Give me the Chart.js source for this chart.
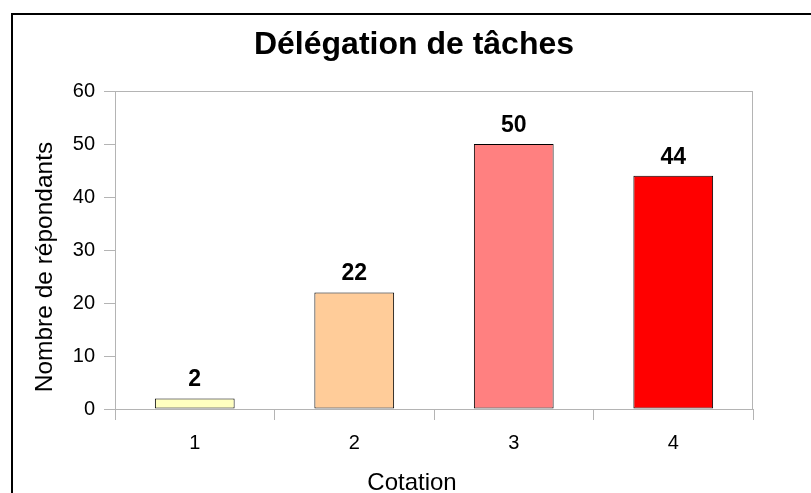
<!DOCTYPE html>
<html lang="fr">
<head>
    <meta charset="UTF-8">
    <title>Délégation de tâches</title>
    <script src="https://cdn.jsdelivr.net/npm/chart.js@4.4.0/dist/chart.umd.min.js"></script>
    <style>
        body {
            margin: 0;
            background: #ffffff;
        }
        #wrap {
            width: 811px;
            height: 493px;
        }
    </style>
</head>
<body>
    <div id="wrap">
        <canvas id="chart" width="811" height="493"></canvas>
    </div>

    <script>
        // données
        const categories = ['1', '2', '3', '4'];
        const counts = [2, 22, 50, 44];
        const chartTitle = 'Délégation de tâches';
        const xTitle = 'Cotation';
        const yTitle = 'Nombre de répondants';

        const barColors = ['#ffffc0', '#ffcc99', '#ff8080', '#ff0000'];
        const FONT = "'Liberation Sans', Arial, sans-serif";
        const axisGray = '#b4b4b4';

        // cadre extérieur + textes (titres, étiquettes de valeurs)
        const decorations = {
            id: 'decorations',
            beforeDraw(chart) {
                const ctx = chart.ctx;
                ctx.save();
                ctx.fillStyle = '#000';
                ctx.fillRect(11, 13, 800, 2);
                ctx.fillRect(11, 13, 2, 480);
                ctx.restore();
            },
            beforeDatasetsDraw(chart) {
                const ctx = chart.ctx;
                const a = chart.chartArea;
                ctx.save();
                ctx.strokeStyle = axisGray;
                ctx.lineWidth = 1;
                ctx.strokeRect(a.left + 0.5, a.top + 0.5, a.right - a.left - 1, a.bottom - a.top);
                ctx.restore();
            },
            afterDatasetsDraw(chart) {
                const ctx = chart.ctx;
                ctx.save();
                ctx.fillStyle = '#000';

                // titre principal
                ctx.font = 'bold 32px ' + FONT;
                ctx.textAlign = 'center';
                ctx.textBaseline = 'alphabetic';
                ctx.fillText(chartTitle, 414, 54);

                // titre axe X
                ctx.font = '24px ' + FONT;
                ctx.fillText(xTitle, 412, 490);

                // titre axe Y
                ctx.save();
                ctx.translate(52, 267);
                ctx.rotate(-Math.PI / 2);
                ctx.font = '24.5px ' + FONT;
                ctx.fillText(yTitle, 0, 0);
                ctx.restore();

                // valeurs au-dessus des barres
                ctx.font = 'bold 23px ' + FONT;
                const meta = chart.getDatasetMeta(0);
                meta.data.forEach((bar, i) => {
                    ctx.fillText(String(counts[i]), bar.x, bar.y - 12);
                });
                ctx.restore();
            }
        };

        new Chart(document.getElementById('chart'), {
            type: 'bar',
            data: {
                labels: categories,
                datasets: [{
                    data: counts,
                    backgroundColor: barColors,
                    borderColor: '#000',
                    borderWidth: 1,
                    borderSkipped: false,
                    barPercentage: 0.5,
                    categoryPercentage: 1.0
                }]
            },
            options: {
                responsive: false,
                animation: false,
                layout: {
                    padding: { top: 91, left: 0, right: 58, bottom: 0 }
                },
                plugins: {
                    legend: { display: false },
                    tooltip: { enabled: false },
                    title: { display: false }
                },
                scales: {
                    x: {
                        afterFit(scale) { scale.height = 84; },
                        grid: {
                            offset: true,
                            drawOnChartArea: false,
                            drawTicks: true,
                            tickLength: 11,
                            color: axisGray
                        },
                        border: { display: true, color: axisGray },
                        ticks: {
                            color: '#000',
                            padding: 11,
                            font: { family: FONT, size: 20 }
                        }
                    },
                    y: {
                        min: 0,
                        max: 60,
                        afterFit(scale) { scale.width = 115; },
                        grid: {
                            drawOnChartArea: false,
                            drawTicks: true,
                            tickLength: 11,
                            color: axisGray
                        },
                        border: { display: true, color: axisGray },
                        ticks: {
                            stepSize: 10,
                            color: '#000',
                            padding: 9,
                            font: { family: FONT, size: 20 }
                        }
                    }
                }
            },
            plugins: [decorations]
        });
    </script>
</body>
</html>
